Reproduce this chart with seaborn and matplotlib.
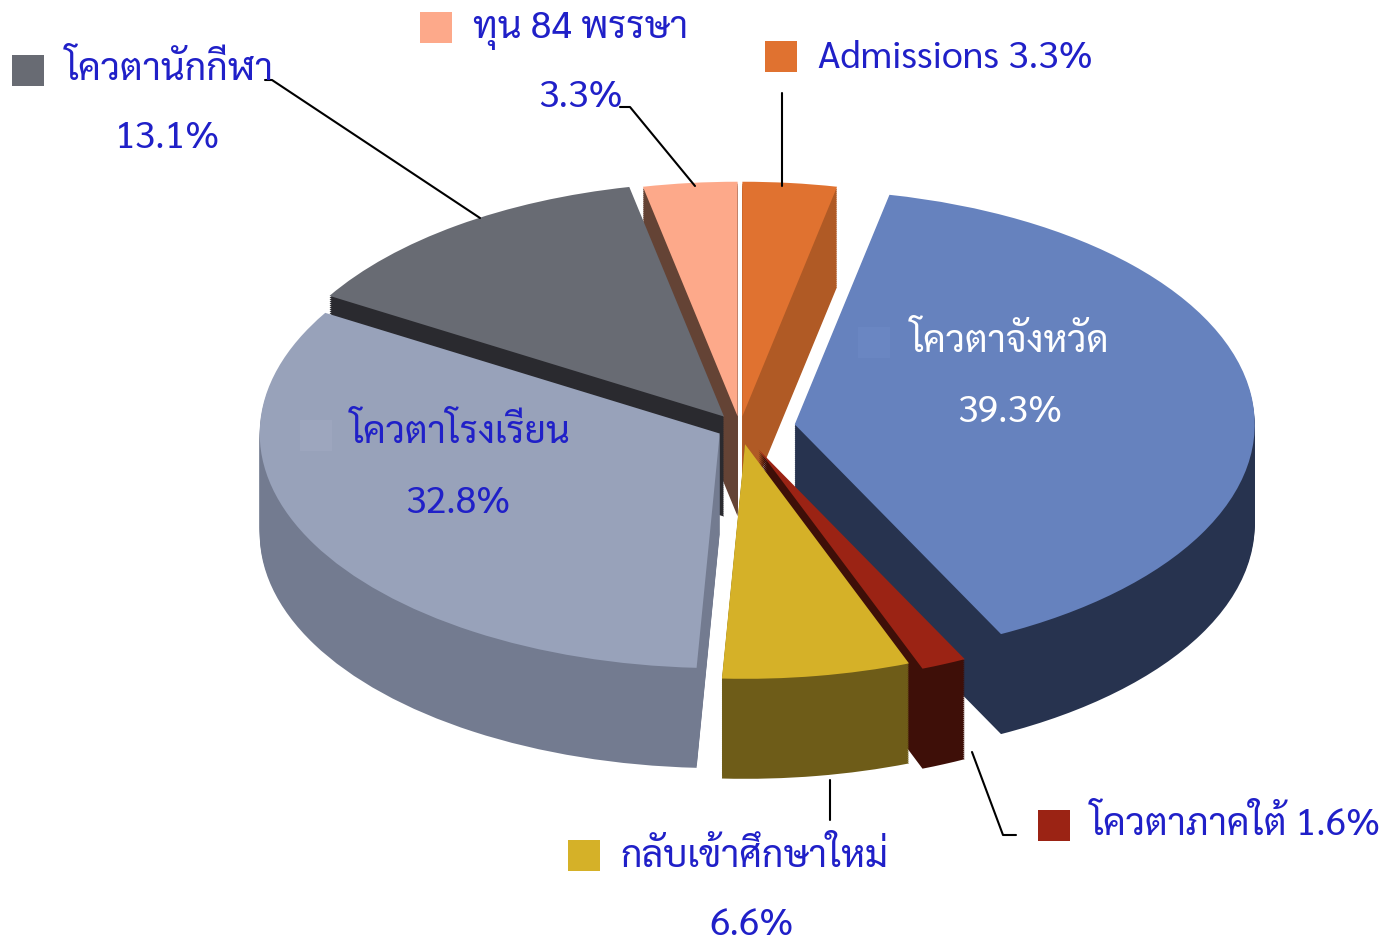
import numpy as np
import seaborn as sns
import matplotlib.pyplot as plt
from matplotlib.patches import Rectangle
from matplotlib.lines import Line2D

labels = ["Admissions", "โควตาจังหวัด", "โควตาภาคใต้", "กลับเข้าศึกษาใหม่",
          "โควตาโรงเรียน", "โควตานักกีฬา", "ทุน 84 พรรษา"]
shares = [3.3, 39.3, 1.6, 6.6, 32.8, 13.1, 3.3]
top_colors = ["#E07230", "#6682BE", "#9B2314", "#D5B128", "#98A2BA", "#686B73", "#FDA98A"]
side_colors = ["#B05A25", "#27334F", "#3E0F08", "#6E5C18", "#737B90", "#2A2A2F", "#644335"]
explode = [0.05, 0.12, 0.10, 0.07, 0.05, 0.06, 0.05]

sns.set_theme(style="white")
plt.rcParams["font.family"] = ["Sarabun", "IBM Plex Sans Thai Looped", "DejaVu Sans"]
W, H = 1388, 941
SY = 0.51          # vertical squash of the pie
R = 460
DEPTH = 100 / SY   # thickness of the 3d pie
fig = plt.figure(figsize=(W / 100, H / 100), dpi=100)
ax = fig.add_axes([0, 0, 1, 1])

cx, cy = 740, (H - 428) / SY
start = 90
mids = []
acc = 0
for v in shares:
    mids.append(np.deg2rad(start - (acc + v / 2) * 3.6))
    acc += v
# back slices first, front slices last
rank = np.argsort(np.argsort(-np.sin(mids)))

n = 50
for k in range(n + 1):
    off = DEPTH * (1 - k / n)
    top = k == n
    wedges, _ = ax.pie(shares, explode=[e * R for e in explode], startangle=start,
                       counterclock=False, radius=R, center=(cx, cy - off),
                       colors=top_colors if top else side_colors,
                       wedgeprops=dict(linewidth=0))
    for i, w in enumerate(wedges):
        w.set_zorder(rank[i] * 2 + (1 if top else 0))

ax.set_aspect("auto")
ax.set_xlim(0, W)
ax.set_ylim(0, H / SY)
ax.axis("off")

blue = "#2020C8"
fs = 27


def px(x, y):
    return x / W, 1 - y / H


def label(i, sq, x, y, txt, color=blue, sqcolor=None):
    fig.patches.append(Rectangle(px(sq[0], sq[1] + 31), 32 / W, 31 / H, transform=fig.transFigure,
                                 color=sqcolor or top_colors[i], lw=0, zorder=30))
    fig.text(*px(x, y), txt, color=color, fontsize=fs, va="baseline", ha="left", zorder=31)


def pct(x, y, v, color=blue):
    fig.text(*px(x, y), f"{v}%", color=color, fontsize=fs, va="baseline", ha="center", zorder=31)


def leader(pts):
    xs = [p[0] / W for p in pts]
    ys = [1 - p[1] / H for p in pts]
    fig.lines.append(Line2D(xs, ys, transform=fig.transFigure, color="black", lw=1.5, zorder=29))


label(5, (12, 55), 65, 80, labels[5])
pct(167, 148, shares[5])
leader([(265, 80), (272, 80), (480, 218)])

label(6, (420, 12), 473, 38, labels[6])
pct(580, 107, shares[6])
leader([(620, 107), (630, 107), (695, 186)])

label(0, (765, 41), 818, 68, f"{labels[0]} {shares[0]}%")
leader([(782, 93), (782, 186)])

label(1, (858, 327), 910, 352, labels[1], color="white", sqcolor="#6A86C2")
pct(1010, 422, shares[1], color="white")

label(4, (300, 420), 350, 443, labels[4], sqcolor="#9DA6BE")
pct(458, 513, shares[4])

label(2, (1038, 810), 1090, 835, f"{labels[2]} {shares[2]}%")
leader([(1016, 835), (1003, 835), (972, 752)])

label(3, (568, 840), 620, 867, labels[3])
pct(752, 935, shares[3])
leader([(830, 780), (830, 820)])

fig.savefig("out.png", dpi=100)
